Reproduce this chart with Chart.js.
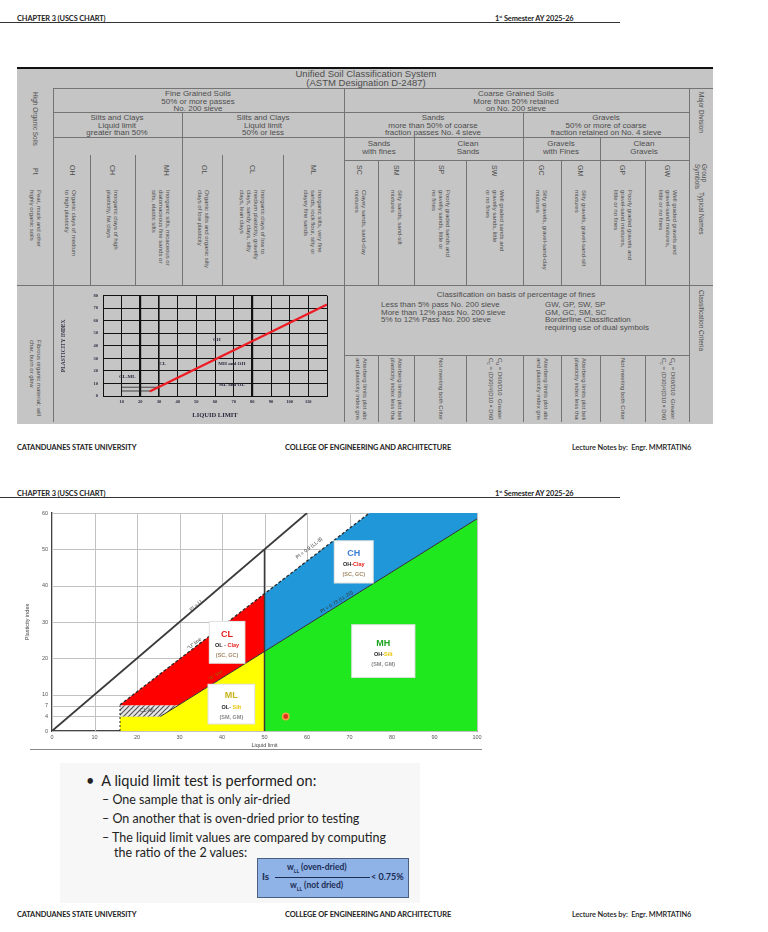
<!DOCTYPE html>
<html><head><meta charset="utf-8">
<script src="https://cdn.jsdelivr.net/npm/chart.js@4.4.1/dist/chart.umd.min.js"></script>
<style>
body{margin:0;width:768px;height:932px;background:#fff;position:relative;overflow:hidden;font-family:Lato,"Open Sans",sans-serif;}
.a{position:absolute;white-space:nowrap;}
.hd{font-weight:bold;font-size:7.4px;color:#222;letter-spacing:-0.1px;}
.t{font-family:"Liberation Sans",Arial,sans-serif;color:#4d4d4d;font-size:8px;line-height:7.6px;text-align:center;}
.v{writing-mode:vertical-rl;font-family:"Liberation Sans",Arial,sans-serif;color:#4d4d4d;font-size:6px;line-height:7px;}
.sl{font-family:Lato,"Open Sans",sans-serif;color:#222;}
</style></head>
<body>
<!-- page 1 header -->
<div class="a hd" style="left:17px;top:14px;">CHAPTER 3 (USCS CHART)</div>
<div class="a hd" style="left:495px;top:14px;">1<sup style="font-size:4px">st</sup> Semester AY 2025-26</div>
<div class="a" style="left:0;top:22px;width:620px;height:1px;background:#333"></div>

<div id="tbl" class="a" style="left:17px;top:67px;width:696px;height:355px;background:#c5c5c5;border-top:2px solid #111;"></div>
<canvas id="small" class="a" width="285" height="134" style="left:55px;top:288px;"></canvas>

<!-- footer 1 -->
<div class="a hd" style="left:17px;top:443px;">CATANDUANES STATE UNIVERSITY</div>
<div class="a hd" style="left:285px;top:443px;">COLLEGE OF ENGINEERING AND ARCHITECTURE</div>
<div class="a hd" style="left:572px;top:443px;font-weight:600;">Lecture Notes by:&nbsp; Engr. MMRTATIN6</div>

<!-- page 2 header -->
<div class="a hd" style="left:17px;top:489px;">CHAPTER 3 (USCS CHART)</div>
<div class="a hd" style="left:495px;top:489px;">1<sup style="font-size:4px">st</sup> Semester AY 2025-26</div>
<div class="a" style="left:0;top:497px;width:620px;height:1px;background:#333"></div>

<canvas id="main" class="a" width="500" height="270" style="left:0;top:490px;"></canvas>
<div class="a" style="left:30px;top:749px;width:452px;height:1px;background:#888"></div>

<!-- slide text -->
<div class="a" style="left:60px;top:763px;width:360px;height:140px;background:#f7f7f7"></div>
<div class="a sl" style="left:86px;top:772px;font-size:14.5px;">•&nbsp; A liquid limit test is performed on:</div>
<div class="a sl" style="left:102px;top:792px;font-size:12.5px;">– One sample that is only air-dried</div>
<div class="a sl" style="left:102px;top:811px;font-size:12.5px;">– On another that is oven-dried prior to testing</div>
<div class="a sl" style="left:102px;top:830px;font-size:12.5px;">– The liquid limit values are compared by computing</div>
<div class="a sl" style="left:114px;top:845px;font-size:12.5px;">the ratio of the 2 values:</div>
<div class="a" style="left:257px;top:858px;width:150px;height:38px;background:#8fb3e6;border:1px solid #4b5f80;"></div>
<div class="a sl" style="left:262px;top:870px;font-size:10px;font-weight:bold;color:#1c2c55">Is</div>
<div class="a sl" style="left:287px;top:862px;font-size:8.5px;font-weight:bold;color:#1c2c55">w<sub style="font-size:5px">LL</sub> (oven-dried)</div>
<div class="a" style="left:275px;top:877px;width:95px;height:1px;background:#1c2c55"></div>
<div class="a sl" style="left:290px;top:880px;font-size:8.5px;font-weight:bold;color:#1c2c55">w<sub style="font-size:5px">LL</sub> (not dried)</div>
<div class="a sl" style="left:371px;top:871px;font-size:9px;font-weight:bold;color:#1c2c55">&lt; 0.75%</div>

<!-- footer 2 -->
<div class="a hd" style="left:17px;top:910px;">CATANDUANES STATE UNIVERSITY</div>
<div class="a hd" style="left:285px;top:910px;">COLLEGE OF ENGINEERING AND ARCHITECTURE</div>
<div class="a hd" style="left:572px;top:910px;font-weight:600;">Lecture Notes by:&nbsp; Engr. MMRTATIN6</div>

<script>
// ===== Plasticity chart data =====
const LL_TICKS = [0, 10, 20, 30, 40, 50, 60, 70, 80, 90, 100];
const PI_TICKS = [0, 4, 7, 10, 20, 30, 40, 50, 60];

// zone outlines: liquid limit / plasticity index vertices
const mlLL = [16, 50, 50, 25.5, 16, 16];
const mlPI = [0, 0, 21.9, 4, 4, 0];
const clmlLL = [16, 25.5, 29.6, 16, 16];
const clmlPI = [4, 4, 7, 7, 4];
const clLL = [16, 29.6, 50, 50, 16, 16];
const clPI = [7, 7, 21.9, 37.8, 7.2, 7];
const chLL = [50, 100, 100, 74.7, 50, 50];
const chPI = [21.9, 58.4, 60, 60, 37.8, 21.9];
const mhLL = [50, 100, 100, 50, 50];
const mhPI = [0, 0, 58.4, 21.9, 0];

// boundary lines
const eqLL = [0, 60], eqPI = [0, 60];          // PI = LL
const uLL = [16, 74.7], uPI = [7.2, 60];        // U line
const aLL = [25.5, 100], aPI = [4, 58.4];       // A line
const v50LL = [50, 50], v50PI = [0, 50];
const v16LL = [16, 16], v16PI = [0, 7];

// sample point
const sampleLL = [55], samplePI = [4];

// ===== small chart inside the USCS table =====
const SMALL_X_LABELS = [10, 20, 30, 40, 50, 60, 70, 80, 90, 100, 110];
const SMALL_Y_LABELS = [0, 10, 20, 30, 40, 50, 60, 70, 80];
const smallALL = [25, 120], smallAPI = [3.6, 73];
const smallBoxTopLL = [10, 29.6], smallBoxTopPI = [7, 7];
const smallBoxBotLL = [10, 25.5], smallBoxBotPI = [4, 4];

const pts = (xs, ys) => xs.map((x, i) => ({x, y: ys[i]}));

// ---------- table drawing ----------
const body = document.body;
function el(cls, css, html) { const d = document.createElement('div'); d.className = 'a ' + cls; d.style.cssText = css; if (html !== undefined) d.innerHTML = html; body.appendChild(d); return d; }
function hl(x1, x2, y) { el('', `left:${x1}px;top:${y}px;width:${x2 - x1}px;height:1px;background:#747474`); }
function vl(x, y1, y2) { el('', `left:${x}px;top:${y1}px;width:1px;height:${y2 - y1}px;background:#747474`); }
function tx(x, y, html, extra = '') { el('t', `left:${x}px;top:${y}px;transform:translate(-50%,0);${extra}`, html); }
function vt(x, y, html, extra = '') { el('v', `left:${x}px;top:${y}px;transform:translate(-50%,0);${extra}`, html); }

hl(53, 713, 88); hl(53, 689, 112); hl(53, 689, 137); hl(344, 689, 160); hl(17, 713, 285); hl(344, 689, 355);
vl(53, 88, 422); vl(689, 88, 422); vl(344, 88, 422); vl(182, 112, 285); vl(523, 112, 285);
[90, 135, 222, 283].forEach(x => vl(x, 155, 285));
[414, 600].forEach(x => vl(x, 137, 285));
[378, 466, 561, 645].forEach(x => vl(x, 160, 285));
[378, 414, 466, 523, 561, 600, 645].forEach(x => vl(x, 355, 422));

tx(366, 69, 'Unified Soil Classification System<br>(ASTM Designation D-2487)', 'font-size:9.5px;line-height:9px;');
tx(198, 90, 'Fine Grained Soils<br>50% or more passes<br>No. 200 sieve');
tx(516, 90, 'Coarse Grained Soils<br>More than 50% retained<br>on No. 200 sieve');
tx(117, 114, 'Silts and Clays<br>Liquid limit<br>greater than 50%');
tx(263, 114, 'Silts and Clays<br>Liquid limit<br>50% or less');
tx(433, 114, 'Sands<br>more than 50% of coarse<br>fraction passes No. 4 sieve');
tx(606, 114, 'Gravels<br>50% or more of coarse<br>fraction retained on No. 4 sieve');
tx(379, 140, 'Sands<br>with fines'); tx(468, 140, 'Clean<br>Sands');
tx(561, 140, 'Gravels<br>with Fines'); tx(644, 140, 'Clean<br>Gravels');

const syms = [['OH', 72], ['CH', 112], ['MH', 166], ['OL', 204], ['CL', 252], ['ML', 313], ['SC', 359], ['SM', 396], ['SP', 441], ['SW', 494], ['GC', 541], ['GM', 580], ['GP', 622], ['GW', 667]];
syms.forEach(([s, x]) => vt(x, 165, s, 'font-size:7px;'));
const names = [
 [70, 'Organic clays of medium<br>to high plasticity'],
 [112, 'Inorganic clays of high<br>plasticity, fat clays'],
 [160, 'Inorganic silts, micaceous or<br>diatomaceous fine sands or<br>silts, elastic silts'],
 [203, 'Organic silts and organic silty<br>clays of low plasticity'],
 [252, 'Inorganic clays of low to<br>medium plasticity, gravelly<br>clays, sandy clays, silty<br>clays, lean clays'],
 [312, 'Inorganic silts, very fine<br>sands, rock flour, silty or<br>clayey fine sands'],
 [360, 'Clayey sands, sand-clay<br>mixtures'],
 [396, 'Silty sands, sand-silt<br>mixtures'],
 [440, 'Poorly graded sands and<br>gravelly sands, little or<br>no fines'],
 [494, 'Well graded sands and<br>gravelly sands, little<br>or no fines'],
 [541, 'Silty gravels, gravel-sand-clay<br>mixtures'],
 [580, 'Silty gravels, gravel-sand-silt<br>mixtures'],
 [622, 'Poorly graded gravels and<br>gravel-sand mixtures,<br>little or no fines'],
 [667, 'Well graded gravels and<br>gravel-sand mixtures,<br>little or no fines']
];
names.forEach(([x, s]) => vt(x, 190, s, 'height:94px;overflow:hidden;'));
vt(35, 92, 'High Organic Soils', 'font-size:6.5px;');
vt(35, 168, 'Pt', 'font-size:7px;');
vt(35, 190, 'Peat, muck and other<br>highly organic soils');
vt(35, 340, 'Fibrous organic material; will<br>char, burn or glow');
vt(701, 92, 'Major Division', 'font-size:6.5px;');
vt(701, 164, 'Group<br>Symbols', 'font-size:6.5px;');
vt(701, 192, 'Typical Names', 'font-size:6.5px;');
vt(701, 290, 'Classification Criteria', 'font-size:6.5px;');

tx(516, 291, 'Classification on basis of percentage of fines');
el('t', 'left:381px;top:301px;text-align:left;', 'Less than 5% pass No. 200 sieve<br>More than 12% pass No. 200 sieve<br>5% to 12% Pass No. 200 sieve');
el('t', 'left:545px;top:301px;text-align:left;', 'GW, GP, SW, SP<br>GM, GC, SM, SC<br>Borderline Classification<br>requiring use of dual symbols');
const crit = [
 [361, 'Atterberg limits plot above A line<br>and plasticity index greater than 7'],
 [396, 'Atterberg limits plot below A line or<br>plasticity index less than 4'],
 [440, 'Not meeting both Criteria for SW'],
 [494, 'C<sub>u</sub> = D60/D10&nbsp; Greater than 6<br>C<sub>c</sub> = (D30)²/(D10×D60)&nbsp; Between 1 &amp; 3'],
 [542, 'Atterberg limits plot above A line<br>and plasticity index greater than 7'],
 [580, 'Atterberg limits plot below A line or<br>plasticity index less than 4'],
 [622, 'Not meeting both Criteria for GW'],
 [667, 'C<sub>u</sub> = D60/D10&nbsp; Greater than 4<br>C<sub>c</sub> = (D30)²/(D10×D60)&nbsp; Between 1 &amp; 3']
];
crit.forEach(([x, s]) => vt(x, 358, s, 'height:62px;overflow:hidden;'));

// ---------- main plasticity chart ----------
function hatch() {
  const c = document.createElement('canvas'); c.width = 5; c.height = 5;
  const g = c.getContext('2d');
  g.fillStyle = '#e6e6e6'; g.fillRect(0, 0, 5, 5);
  g.strokeStyle = '#555'; g.lineWidth = 1.2;
  g.beginPath(); g.moveTo(0, 5); g.lineTo(5, 0); g.moveTo(-1, 1); g.lineTo(1, -1); g.moveTo(4, 6); g.lineTo(6, 4); g.stroke();
  return g.createPattern(c, 'repeat');
}
const ctxMain = document.getElementById('main').getContext('2d');
const zone = (lx, py, color, order) => ({data: pts(lx, py), fill: 'shape', backgroundColor: color, borderWidth: 0, pointRadius: 0, order});
const line = (lx, py, color, w, dash, order = 2) => ({data: pts(lx, py), fill: false, borderColor: color, borderWidth: w, borderDash: dash || [], pointRadius: 0, order});

const BOXES = [
  {x0: 36.9, x1: 45.5, y0: 18.5, y1: 30.3, rows: [
    {pi: 26.5, size: 9, segs: [['CL', '#e8201b']]},
    {pi: 23.6, size: 5.5, segs: [['OL - ', '#222'], ['Clay', '#e8201b']]},
    {pi: 20.9, size: 5.5, segs: [['(SC, GC)', '#a38866']]}]},
  {x0: 66.3, x1: 75.7, y0: 40.6, y1: 52.5, rows: [
    {pi: 48.8, size: 9, segs: [['CH', '#3b7fd2']]},
    {pi: 45.8, size: 5.5, segs: [['OH-', '#222'], ['Clay', '#e8201b']]},
    {pi: 43.2, size: 5.5, segs: [['(SC, GC)', '#a38866']]}]},
  {x0: 70.4, x1: 85.5, y0: 14.6, y1: 29.4, rows: [
    {pi: 24.2, size: 9, segs: [['MH', '#1ea51e']]},
    {pi: 21.1, size: 5.5, segs: [['OH-', '#222'], ['Silt', '#e9c400']]},
    {pi: 18.3, size: 5.5, segs: [['(SM, GM)', '#8a8a8a']]}]},
  {x0: 36.6, x1: 47.8, y0: 1.8, y1: 13, rows: [
    {pi: 9.8, size: 9, segs: [['ML', '#c8b418']]},
    {pi: 6.6, size: 5.5, segs: [['OL- ', '#222'], ['Silt', '#e9c400']]},
    {pi: 3.7, size: 5.5, segs: [['(SM, GM)', '#8a8a8a']]}]}
];
const LINE_LABELS = [
  {t: 'PI = LL', ll: 34, pi: 34.6, slope: 1, c: '#444'},
  {t: '"U" line', ll: 33.5, pi: 24, slope: 0.9, c: '#444'},
  {t: 'PI = 0.9 (LL-8)', ll: 60.5, pi: 50.3, slope: 0.9, c: '#333'},
  {t: 'PI = 0.73 (LL-20)', ll: 67, pi: 35.5, slope: 0.73, c: '#333'},
  {t: '"A" line', ll: 38.5, pi: 15.3, slope: 0.73, c: '#8a6a00'},
  {t: 'CL-ML', ll: 22.5, pi: 5.5, slope: 0, c: '#444'}
];
// light grid drawn from the scales' own ticks, under the datasets
const gridUnder = {
  id: 'gridUnder',
  beforeDatasetsDraw(chart) {
    const {ctx, chartArea: a, scales: {x, y}} = chart;
    ctx.save();
    ctx.strokeStyle = '#c2c2c2'; ctx.lineWidth = 1;
    ctx.beginPath();
    x.ticks.forEach(t => { const px = Math.round(x.getPixelForValue(t.value)) + 0.5; ctx.moveTo(px, a.top); ctx.lineTo(px, a.bottom); });
    y.ticks.forEach(t => { const py = Math.round(y.getPixelForValue(t.value)) + 0.5; ctx.moveTo(a.left, py); ctx.lineTo(a.right, py); });
    ctx.stroke();
    ctx.restore();
  }
};
const mainLabels = {
  id: 'mainLabels',
  afterDatasetsDraw(chart) {
    const {ctx, scales: {x, y}} = chart;
    ctx.save();
    ctx.textBaseline = 'middle';
    for (const b of BOXES) {
      const x1 = x.getPixelForValue(b.x0), x2 = x.getPixelForValue(b.x1);
      const y1 = y.getPixelForValue(b.y1), y2 = y.getPixelForValue(b.y0);
      ctx.fillStyle = '#fff'; ctx.fillRect(x1, y1, x2 - x1, y2 - y1);
      ctx.strokeStyle = 'rgba(0,0,0,0.12)'; ctx.lineWidth = 1; ctx.strokeRect(x1 + 0.5, y1 + 0.5, x2 - x1 - 1, y2 - y1 - 1);
      for (const r of b.rows) {
        ctx.font = `bold ${r.size}px "Liberation Sans", Arial, sans-serif`;
        const total = r.segs.reduce((s, g) => s + ctx.measureText(g[0]).width, 0);
        let cx = (x1 + x2) / 2 - total / 2;
        const py = y.getPixelForValue(r.pi);
        ctx.textAlign = 'left';
        for (const [t, c] of r.segs) { ctx.fillStyle = c; ctx.fillText(t, cx, py); cx += ctx.measureText(t).width; }
      }
    }
    const kx = x.getPixelForValue(10) - x.getPixelForValue(0);
    const ky = y.getPixelForValue(0) - y.getPixelForValue(10);
    ctx.font = '5px "Liberation Sans", Arial, sans-serif';
    ctx.textAlign = 'center';
    for (const L of LINE_LABELS) {
      ctx.save();
      ctx.translate(x.getPixelForValue(L.ll), y.getPixelForValue(L.pi));
      ctx.rotate(-Math.atan(L.slope * ky / kx));
      ctx.fillStyle = L.c; ctx.fillText(L.t, 0, 0);
      ctx.restore();
    }
    ctx.restore();
  }
};

new Chart(ctxMain, {
  type: 'line',
  data: {datasets: [
    {data: pts(sampleLL, samplePI), showLine: false, pointRadius: 3.2, pointBackgroundColor: '#e0301e', pointBorderColor: '#f2a040', pointBorderWidth: 1.5, order: 0},
    line(eqLL, eqPI, '#3a3a3a', 1.8),
    line(uLL, uPI, '#2a2a2a', 1.3, [3, 2]),
    line(aLL, aPI, '#2f2f2f', 1),
    line(v50LL, v50PI, '#3a3a3a', 1.5),
    line(v16LL, v16PI, '#222', 1, [2, 2]),
    zone(clmlLL, clmlPI, hatch(), 5),
    zone(mlLL, mlPI, '#ffff00', 6),
    zone(clLL, clPI, '#ff0000', 6),
    zone(chLL, chPI, '#1f97d8', 6),
    zone(mhLL, mhPI, '#1fe81f', 6)
  ]},
  options: {
    responsive: false, animation: false,
    layout: {padding: {left: 22, top: 23, right: 23, bottom: 9}},
    plugins: {legend: {display: false}, tooltip: {enabled: false}},
    scales: {
      x: {type: 'linear', min: 0, max: 100,
        afterBuildTicks: s => { s.ticks = LL_TICKS.map(v => ({value: v})); },
        afterFit: s => { s.height = 20; },
        grid: {display: true, drawOnChartArea: false, drawTicks: false},
        border: {display: true, color: '#444', width: 1.5},
        ticks: {font: {size: 5.5, family: 'Liberation Sans'}, color: '#555', padding: 3},
        title: {display: true, text: 'Liquid limit', font: {size: 5.5, family: 'Liberation Sans'}, color: '#444', padding: {top: 2, bottom: 2}}},
      y: {min: 0, max: 60,
        afterBuildTicks: s => { s.ticks = PI_TICKS.map(v => ({value: v})); },
        afterFit: s => { s.width = 30; },
        grid: {display: true, drawOnChartArea: false, drawTicks: false},
        border: {display: true, color: '#444', width: 1.5},
        ticks: {font: {size: 5.5, family: 'Liberation Sans'}, color: '#555', padding: 4},
        title: {display: true, text: 'Plasticity index', font: {size: 5.5, family: 'Liberation Sans'}, color: '#444', padding: {top: 2, bottom: 2}}}
    }
  },
  plugins: [gridUnder, mainLabels]
});

// ---------- small chart in the table ----------
const SMALL_LABELS = [
  {t: 'CH', ll: 61, pi: 45}, {t: 'CL', ll: 32, pi: 26}, {t: 'CL-ML', ll: 13, pi: 15},
  {t: 'MH and OH', ll: 69, pi: 26}, {t: 'ML and OL', ll: 69, pi: 9}
];
const smallLabels = {
  id: 'smallLabels',
  afterDatasetsDraw(chart) {
    const {ctx, scales: {x, y}} = chart;
    ctx.save();
    ctx.font = 'bold 5px "Liberation Serif", serif';
    ctx.fillStyle = '#2a2a40'; ctx.textAlign = 'center'; ctx.textBaseline = 'middle';
    for (const L of SMALL_LABELS) ctx.fillText(L.t, x.getPixelForValue(L.ll), y.getPixelForValue(L.pi));
    ctx.restore();
  }
};
const thick = v => (v === 20 || v === 80) ? 2.2 : (v === 30 ? 1.6 : 1);
new Chart(document.getElementById('small').getContext('2d'), {
  type: 'line',
  data: {datasets: [
    {data: pts(smallALL, smallAPI), borderColor: '#ee1c24', borderWidth: 2.4, pointRadius: 0, fill: false},
    {data: pts(smallBoxTopLL, smallBoxTopPI), borderColor: '#222', borderWidth: 0.8, pointRadius: 0, fill: false},
    {data: pts(smallBoxBotLL, smallBoxBotPI), borderColor: '#222', borderWidth: 0.8, pointRadius: 0, fill: false}
  ]},
  options: {
    responsive: false, animation: false,
    layout: {padding: {left: 3, top: 7, right: 13, bottom: 1}},
    plugins: {legend: {display: false}, tooltip: {enabled: false}},
    scales: {
      x: {type: 'linear', min: 0, max: 120,
        afterBuildTicks: s => { s.ticks = [0].concat(SMALL_X_LABELS, [120]).map(v => ({value: v})); },
        afterFit: s => { s.height = 25; },
        grid: {color: '#111', lineWidth: c => thick(c.tick ? c.tick.value : -1), drawTicks: false},
        border: {color: '#111', width: 1},
        ticks: {font: {size: 4.5, family: 'Liberation Serif', weight: 'bold'}, color: '#2a2a40', padding: 3,
          callback: v => SMALL_X_LABELS.includes(v) ? String(v) : ''},
        title: {display: true, text: 'LIQUID LIMIT', font: {size: 6.5, family: 'Liberation Serif', weight: 'bold'}, color: '#2a2a40', padding: {top: 3, bottom: 2}}},
      y: {min: 0, max: 80,
        afterBuildTicks: s => { s.ticks = SMALL_Y_LABELS.map(v => ({value: v})); },
        afterFit: s => { s.width = 45; },
        grid: {color: '#111', drawTicks: false},
        border: {color: '#111', width: 1},
        ticks: {font: {size: 4.5, family: 'Liberation Serif', weight: 'bold'}, color: '#2a2a40', padding: 5},
        title: {display: true, text: 'PLASTICITY INDEX', font: {size: 5.5, family: 'Liberation Serif', weight: 'bold'}, color: '#3a3a50', padding: {top: 2, bottom: 2}}}
    }
  },
  plugins: [smallLabels]
});
</script>
</body></html>
